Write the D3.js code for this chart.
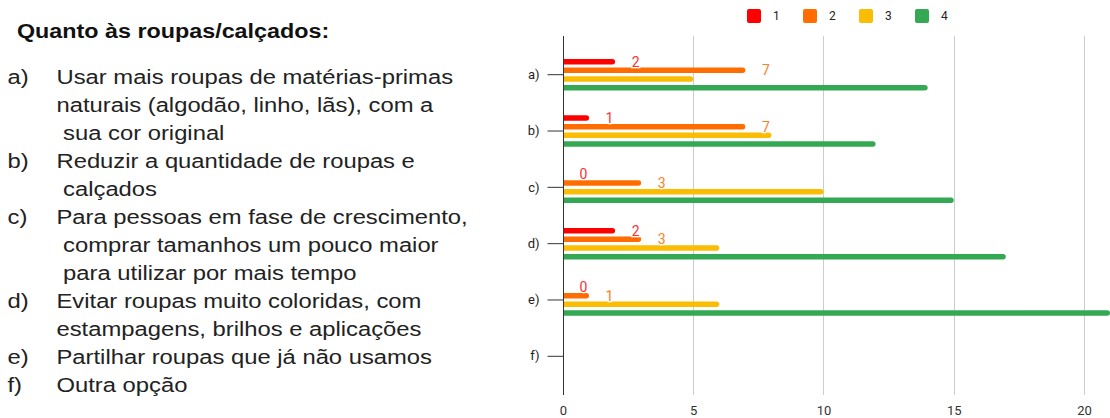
<!DOCTYPE html>
<html>
<head>
<meta charset="utf-8">
<script src="https://cdn.jsdelivr.net/npm/d3@7"></script>
<style>
  html, body { margin: 0; padding: 0; background: #fff; }
  svg { display: block; }
  text { white-space: pre; }
</style>
</head>
<body>
<svg id="chart" width="1110" height="418"></svg>
<script>
// ---- data ----
const categories = ["a)", "b)", "c)", "d)", "e)", "f)"];
const seriesNames = ["1", "2", "3", "4"];
const series1 = [2, 1, 0, 2, 0, null];
const series2 = [7, 7, 3, 3, 1, null];
const series3 = [5, 8, 10, 6, 6, null];
const series4 = [14, 12, 15, 17, 21, null];
const xTickValues = [0, 5, 10, 15, 20];
const labeledSeries = ["1", "2"];
const titleText = "Quanto às roupas/calçados:";
const itemLetters = ["a)", "b)", "c)", "d)", "e)", "f)"];
const itemLines = [
  ["Usar mais roupas de matérias-primas", "naturais (algodão, linho, lãs), com a", " sua cor original"],
  ["Reduzir a quantidade de roupas e", " calçados"],
  ["Para pessoas em fase de crescimento,", " comprar tamanhos um pouco maior", " para utilizar por mais tempo"],
  ["Evitar roupas muito coloridas, com", "estampagens, brilhos e aplicações"],
  ["Partilhar roupas que já não usamos"],
  ["Outra opção"]
];

// ---- styles ----
const colors = ["#ff0000", "#ff6d01", "#fbbc04", "#34a853"];
const labelColors = ["#ff3030", "#ff7d26"];
const allSeries = [series1, series2, series3, series4];

const svg = d3.select("#chart");

// ---- left text block ----
const sx = 1.19;
const leftG = svg.append("g").attr("transform", `scale(${sx},1)`);
leftG.append("text")
  .attr("x", 17 / sx)
  .attr("y", 38.5)
  .attr("font-family", "Liberation Sans, Arial, sans-serif")
  .attr("font-weight", "bold")
  .attr("font-size", 19.6)
  .attr("fill", "#111")
  .text(titleText);

const lineStep = 28;
let li = 0;
itemLines.forEach((lines, k) => {
  leftG.append("text")
    .attr("x", 7.5 / sx)
    .attr("y", 84.3 + lineStep * li)
    .attr("font-family", "Liberation Sans, Arial, sans-serif")
    .attr("font-size", 20)
    .attr("fill", "#222")
    .text(itemLetters[k]);
  lines.forEach(line => {
    leftG.append("text")
      .attr("x", 56.5 / sx)
      .attr("y", 84.3 + lineStep * li)
      .attr("font-family", "Liberation Sans, Arial, sans-serif")
      .attr("font-size", 20)
      .attr("fill", "#222")
      .text(line);
    li++;
  });
});

// ---- chart ----
const plotTop = 36, plotBottom = 395;
const x = d3.scaleLinear().domain([0, 21]).range([563, 1110]);
const y = d3.scaleBand().domain(categories).range([plotTop, plotBottom]).paddingInner(0).paddingOuter(0.187);
const groupHalf = 17.3;
const ySub = d3.scaleBand().domain(seriesNames).range([-groupHalf, groupHalf]).paddingInner(0.365).paddingOuter(0.18);

// gridlines
svg.append("g").selectAll("line")
  .data(xTickValues.filter(d => d !== 0))
  .join("line")
  .attr("x1", d => Math.round(x(d)) + 0.5).attr("x2", d => Math.round(x(d)) + 0.5)
  .attr("y1", plotTop).attr("y2", plotBottom)
  .attr("stroke", "#cccccc").attr("stroke-width", 1);

// x axis labels
const xAxis = d3.axisBottom(x).tickValues(xTickValues).tickSize(0).tickPadding(0);
const xg = svg.append("g").attr("transform", `translate(0,${plotBottom})`).call(xAxis);
xg.select(".domain").remove();
xg.selectAll("text")
  .attr("y", 20).attr("dy", 0)
  .attr("font-family", "Roboto, Arial, sans-serif")
  .attr("font-size", 13)
  .attr("fill", "#333");

// bars
function barPath(x0, x1, yc, h) {
  const r = h / 2;
  const w = Math.max(0, x1 - x0);
  if (w <= 0) return "";
  const rr = Math.min(r, w);
  return `M${x0},${yc - r}H${x1 - rr}A${rr},${r} 0 0 1 ${x1 - rr},${yc + r}H${x0}Z`;
}
const bh = ySub.bandwidth();
seriesNames.forEach((s, si) => {
  const vals = allSeries[si];
  svg.append("g").selectAll("path")
    .data(categories.map((c, i) => ({ c, v: vals[i] })).filter(d => d.v))
    .join("path")
    .attr("d", d => {
      const yc = y(d.c) + y.bandwidth() / 2 + ySub(s) + bh / 2;
      return barPath(x(0), x(d.v), yc, bh);
    })
    .attr("fill", colors[si]);
});

// data labels for series 1 & 2
labeledSeries.forEach(s => {
  const si = seriesNames.indexOf(s);
  const vals = allSeries[si];
  svg.append("g").selectAll("text")
    .data(categories.map((c, i) => ({ c, v: vals[i] })).filter(d => d.v !== null))
    .join("text")
    .attr("x", d => x(d.v) + 20.5)
    .attr("y", d => y(d.c) + y.bandwidth() / 2 + ySub(s) + bh / 2)
    .attr("dy", "0.36em")
    .attr("text-anchor", "middle")
    .attr("font-family", "Roboto, Arial, sans-serif")
    .attr("font-size", 14)
    .attr("fill", labelColors[si])
    .attr("stroke", "#fff").attr("stroke-width", 2.5)
    .attr("paint-order", "stroke")
    .text(d => d.v);
});

// y axis
const yAxis = d3.axisLeft(y).tickSize(16).tickPadding(8);
const yg = svg.append("g").attr("transform", `translate(${Math.round(x(0)) + 0.5},0)`).call(yAxis);
yg.select(".domain").attr("d", `M0,${plotTop}V${plotBottom}`).attr("stroke", "#333");
yg.selectAll(".tick line").attr("stroke", "#333");
yg.selectAll(".tick text")
  .attr("font-family", "Roboto, Arial, sans-serif")
  .attr("font-size", 13)
  .attr("fill", "#222");

// legend
const legend = svg.append("g").attr("transform", "translate(747,9)");
const legItems = legend.selectAll("g").data(seriesNames).join("g")
  .attr("transform", (d, i) => `translate(${i * 56},0)`);
legItems.append("rect")
  .attr("width", 14).attr("height", 14).attr("rx", 2)
  .attr("fill", (d, i) => colors[i]);
legItems.append("text")
  .attr("x", 26).attr("y", 7).attr("dy", "0.36em")
  .attr("font-family", "Roboto, Arial, sans-serif")
  .attr("font-size", 12)
  .attr("fill", "#222")
  .text(d => d);
</script>
</body>
</html>
